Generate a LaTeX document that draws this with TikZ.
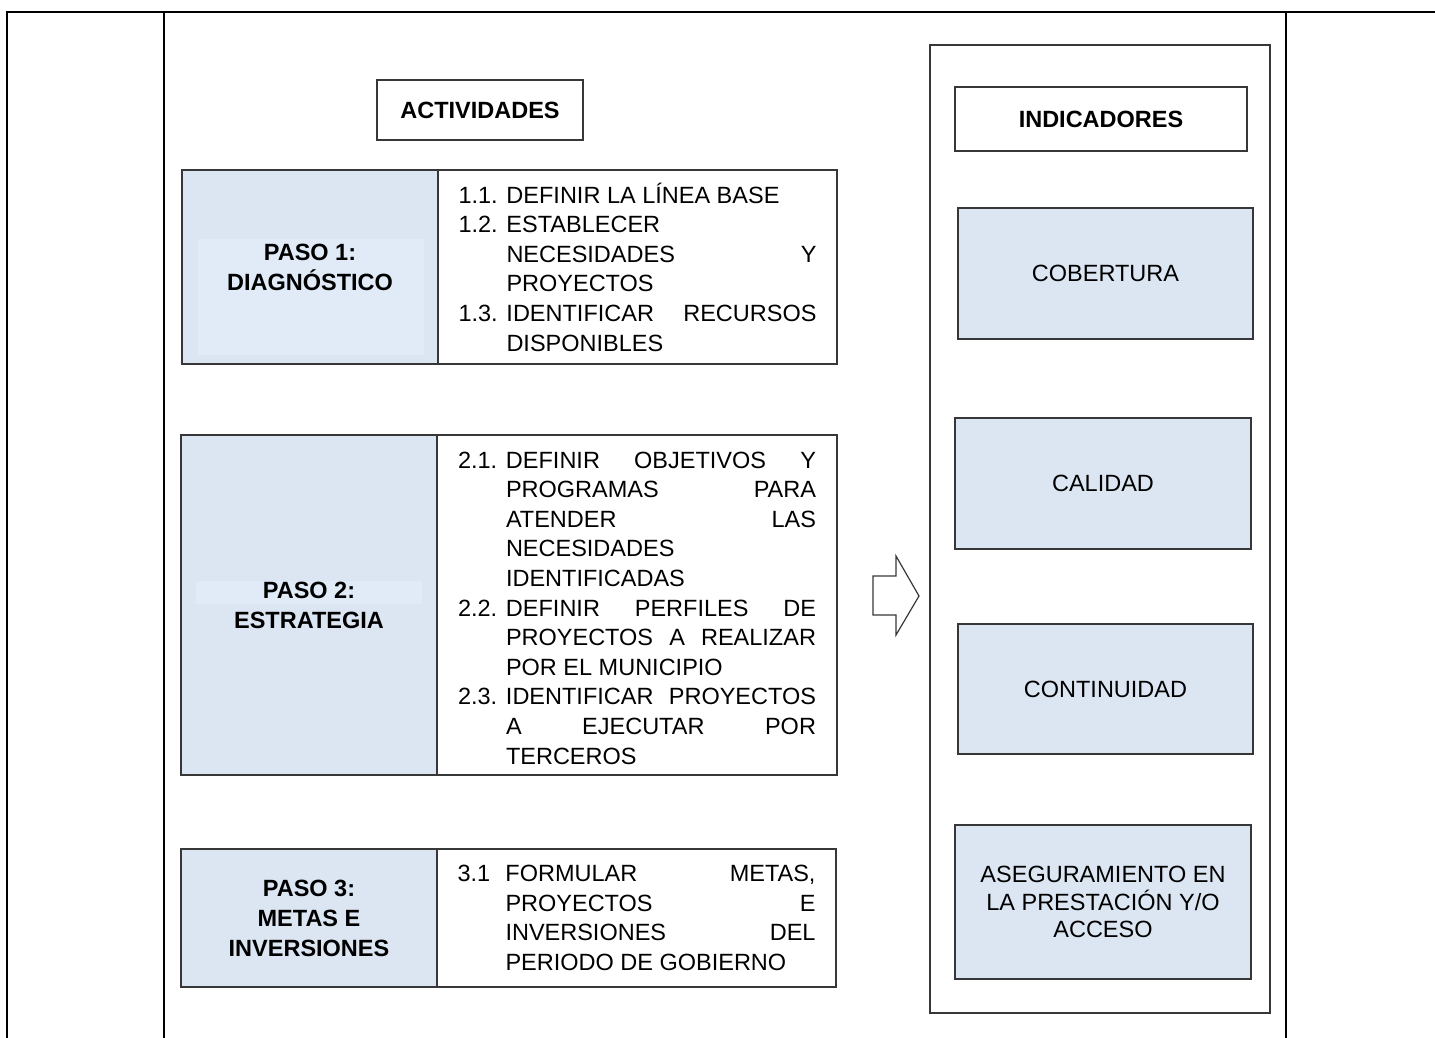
\documentclass[tikz,border=0pt]{standalone}
\usepackage{fontspec}
\setmainfont{Liberation Sans}
\definecolor{pasofill}{RGB}{220,230,242}
\definecolor{pasolight}{RGB}{224,235,247}
\definecolor{edgegray}{RGB}{55,55,55}
\newcommand{\numlab}[1]{\makebox[48pt][l]{#1}}
\newcommand{\indt}{\hspace*{48pt}}
\newcommand{\jline}[1]{\makebox[310pt][s]{#1}}
\newcommand{\lline}[1]{\makebox[310pt][l]{#1}}
\begin{document}
\begin{tikzpicture}[x=1pt,y=-1pt,
  frameline/.style={line width=1.8pt,black},
  boxline/.style={draw=edgegray,line width=1.2pt},
  cellbox/.style={boxline,inner sep=0pt,anchor=center},
  pasocell/.style={cellbox,fill=pasofill},
  titlefont/.style={font=\fontsize{23.5}{30}\selectfont\bfseries},
  actfont/.style={font=\fontsize{23.5}{29.6}\selectfont},
  indfont/.style={font=\fontsize{23.5}{27.5}\selectfont},
]
\useasboundingbox (0,0) rectangle (1435,1038);

% table frame
\draw[frameline] (7,1038) -- (7,12) -- (1435,12);
\draw[frameline] (164,12) -- (164,1038);
\draw[frameline] (1286,12) -- (1286,1038);

% headers
\node[cellbox,minimum width=206,minimum height=60,titlefont] (act) at (480,110) {ACTIVIDADES};

% row 1
\node[pasocell,minimum width=256,minimum height=194] (p1) at (310,267) {};
\fill[pasolight] (198,239) rectangle (424,355);
\node[titlefont,align=center,inner sep=0pt] (p1t) at (p1.center) {PASO 1:\\DIAGNÓSTICO};
\node[cellbox,minimum width=399,minimum height=194,actfont,align=left] (a1) at (637.5,267) {%
\numlab{1.1.}\lline{DEFINIR LA LÍNEA BASE}\\
\numlab{1.2.}\lline{ESTABLECER}\\
\indt\jline{NECESIDADES Y}\\
\indt\lline{PROYECTOS}\\
\numlab{1.3.}\jline{IDENTIFICAR RECURSOS}\\
\indt\lline{DISPONIBLES}};

% row 2
\node[pasocell,minimum width=256,minimum height=340] (p2) at (309,605) {};
\fill[pasolight] (196,581) rectangle (422,604);
\node[titlefont,align=center,inner sep=0pt] (p2t) at (p2.center) {PASO 2:\\ESTRATEGIA};
\node[cellbox,minimum width=400,minimum height=340] (a2) at (637,605) {};
\node[actfont,align=left,inner sep=0pt] (a2t) at (637,608) {%
\numlab{2.1.}\jline{DEFINIR OBJETIVOS Y}\\
\indt\jline{PROGRAMAS PARA}\\
\indt\jline{ATENDER LAS}\\
\indt\lline{NECESIDADES}\\
\indt\lline{IDENTIFICADAS}\\
\numlab{2.2.}\jline{DEFINIR PERFILES DE}\\
\indt\jline{PROYECTOS A REALIZAR}\\
\indt\lline{POR EL MUNICIPIO}\\
\numlab{2.3.}\jline{IDENTIFICAR PROYECTOS}\\
\indt\jline{A EJECUTAR POR}\\
\indt\lline{TERCEROS}};

% row 3
\node[pasocell,minimum width=256,minimum height=138] (p3) at (309,918) {};
\node[titlefont,align=center,inner sep=0pt] (p3t) at (p3.center) {PASO 3:\\METAS E\\INVERSIONES};
\node[cellbox,minimum width=399,minimum height=138,actfont,align=left] (a3) at (636.5,918) {%
\numlab{3.1}\jline{FORMULAR METAS,}\\
\indt\jline{PROYECTOS E}\\
\indt\jline{INVERSIONES DEL}\\
\indt\lline{PERIODO DE GOBIERNO}};

% arrow
\draw[boxline,line join=miter] (873,576) -- (896,576) -- (896,556) -- (919,596) -- (896,635) -- (896,615) -- (873,615) -- cycle;

% indicators column
\node[cellbox,minimum width=340,minimum height=968] (indbox) at (1100,529) {};
\node[cellbox,minimum width=292,minimum height=64,titlefont] (ind) at (1101,119) {INDICADORES};
\node[pasocell,minimum width=295,minimum height=131,indfont] (cob) at (1105.5,273.5) {COBERTURA};
\node[pasocell,minimum width=296,minimum height=131,indfont] (cal) at (1103,483.5) {CALIDAD};
\node[pasocell,minimum width=295,minimum height=130,indfont] (con) at (1105.5,689) {CONTINUIDAD};
\node[pasocell,minimum width=296,minimum height=154,indfont,align=center] (ase) at (1103,902) {ASEGURAMIENTO EN\\LA PRESTACIÓN Y/O\\ACCESO};
\end{tikzpicture}
\end{document}
